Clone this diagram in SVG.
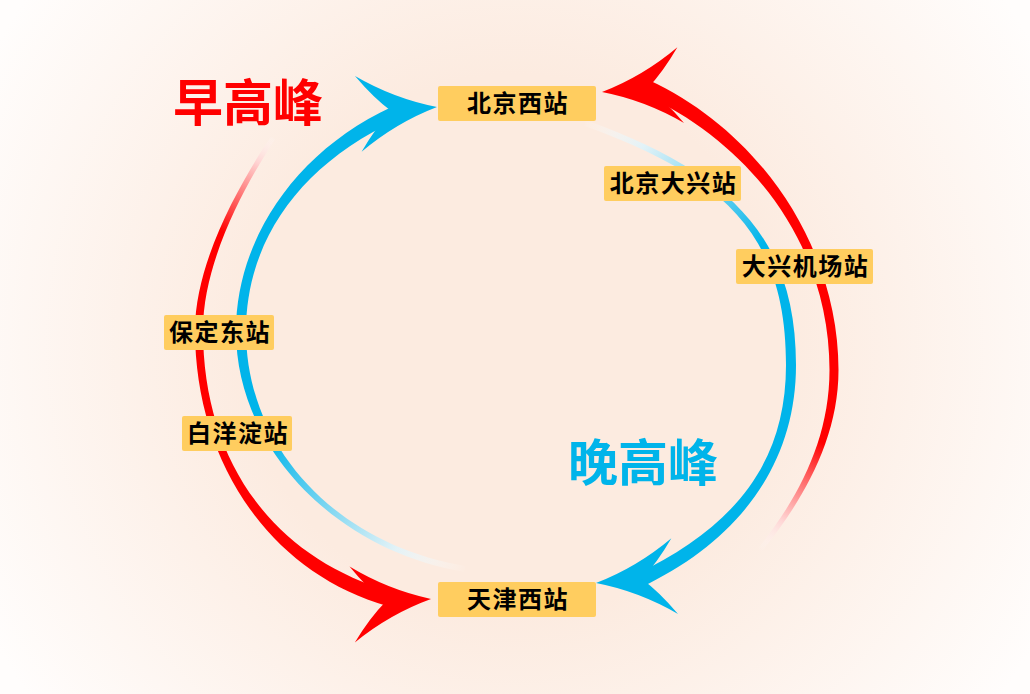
<svg xmlns="http://www.w3.org/2000/svg" width="1030" height="694" viewBox="0 0 1030 694">
<style>
.lbl{fill:#ffcd5f}
.lt{font-family:"Noto Sans CJK SC","Noto Sans",sans-serif;font-weight:700;font-size:24px;fill:#000;text-anchor:middle;letter-spacing:1.5px}
.title{font-family:"Noto Sans CJK SC","Noto Sans",sans-serif;font-weight:700;font-size:50px;text-anchor:middle}
</style>
<defs>
<radialGradient id="bg" cx="515" cy="345" r="600" gradientUnits="userSpaceOnUse">
<stop offset="0" stop-color="#fcebe0"/>
<stop offset="0.45" stop-color="#fcebe0"/>
<stop offset="1" stop-color="#fffdfc"/>
</radialGradient>
<linearGradient id="gRedR" x1="762" y1="552" x2="826" y2="445" gradientUnits="userSpaceOnUse">
<stop offset="0" stop-color="#ffffff" stop-opacity="0"/>
<stop offset="0.3" stop-color="#ffd2d2" stop-opacity="0.9"/>
<stop offset="1" stop-color="#ff0000" stop-opacity="1"/>
</linearGradient>
<linearGradient id="gRedL" x1="276" y1="134" x2="216" y2="228" gradientUnits="userSpaceOnUse">
<stop offset="0" stop-color="#ffffff" stop-opacity="0"/>
<stop offset="0.3" stop-color="#ffd2d2" stop-opacity="0.9"/>
<stop offset="1" stop-color="#ff0000" stop-opacity="1"/>
</linearGradient>
<linearGradient id="gBlueL" x1="468" y1="570" x2="266" y2="438" gradientUnits="userSpaceOnUse">
<stop offset="0" stop-color="#ffffff" stop-opacity="0"/>
<stop offset="0.3" stop-color="#dff3fa" stop-opacity="0.9"/>
<stop offset="1" stop-color="#00b4ea" stop-opacity="1"/>
</linearGradient>
<linearGradient id="gBlueR" x1="582" y1="120" x2="762" y2="245" gradientUnits="userSpaceOnUse">
<stop offset="0" stop-color="#ffffff" stop-opacity="0"/>
<stop offset="0.3" stop-color="#dff3fa" stop-opacity="0.9"/>
<stop offset="1" stop-color="#00b4ea" stop-opacity="1"/>
</linearGradient>
<path id="head" d="M0,0 Q-42,-12 -79,-38 Q-62,-14 -46,0 Q-62,14 -79,38 Q-42,12 0,0 Z"/>
</defs>
<rect x="0" y="0" width="1030" height="694" fill="url(#bg)"/>
<g id="connectors">
<path id="arc-red-right" fill="url(#gRedR)" d="M761.95,551.56 C801.95,501.56 838.5,440 838.5,370 C838.5,250 763.17,133.2 649.17,80.2 L642.83,93.8 C756.83,146.8 829.5,250 829.5,370 C829.5,440 798.05,498.44 758.05,548.44 Z"/>
<path id="arc-red-left" fill="url(#gRedL)" d="M270.92,136.61 C242.92,178.61 195,260 195,330 C195,460 267.95,572.22 387.95,606.22 L392.05,591.78 C272.05,557.78 203,460 203,330 C203,260 247.08,181.39 275.08,139.39 Z"/>
<path id="arc-blue-left" fill="url(#gBlueL)" d="M464.5,571.96 C335.1,550.36 236,447.6 236,331 C236,240.6 294.57,151.64 392.07,106.64 L397.93,119.36 C300.43,164.36 246,240.6 246,331 C246,447.6 336.1,544.44 465.5,566.04 Z"/>
<path id="arc-blue-right" fill="url(#gBlueR)" d="M586.02,120.18 C727.02,171.18 796,235 796,365 C796,465 738,541.33 641,587.33 L635,574.67 C732,528.67 786,465 786,365 C786,235 724.98,176.82 583.98,125.82 Z"/>
<use href="#head" fill="#00b4ea" transform="translate(437,107) rotate(-5)"/>
<use href="#head" fill="#00b4ea" transform="translate(596,583) rotate(175)"/>
<use href="#head" fill="#ff0000" transform="translate(431,599) rotate(-4)"/>
<use href="#head" fill="#ff0000" transform="translate(602,92) rotate(175)"/>
</g>
<g id="title-morning"><text class="title" x="248" y="121" fill="#ff0000">早高峰</text></g>
<g id="title-evening"><text class="title" x="643" y="481" fill="#00b4ea">晚高峰</text></g>
<g id="node-beijingxi"><rect class="lbl" x="438" y="86" width="158" height="35" rx="2"/><text class="lt" x="518" y="112">北京西站</text></g>
<g id="node-tianjinxi"><rect class="lbl" x="438" y="582" width="158" height="35" rx="2"/><text class="lt" x="518" y="608">天津西站</text></g>
<g id="node-beijingdaxing"><rect class="lbl" x="604" y="166" width="137" height="35" rx="2"/><text class="lt" x="673.5" y="192">北京大兴站</text></g>
<g id="node-daxingjichang"><rect class="lbl" x="736" y="249" width="137" height="35" rx="2"/><text class="lt" x="805.5" y="275">大兴机场站</text></g>
<g id="node-baodingdong"><rect class="lbl" x="164" y="315" width="110" height="35" rx="2"/><text class="lt" x="220" y="341">保定东站</text></g>
<g id="node-baiyangdian"><rect class="lbl" x="182" y="416" width="110" height="35" rx="2"/><text class="lt" x="238" y="442">白洋淀站</text></g>
</svg>
